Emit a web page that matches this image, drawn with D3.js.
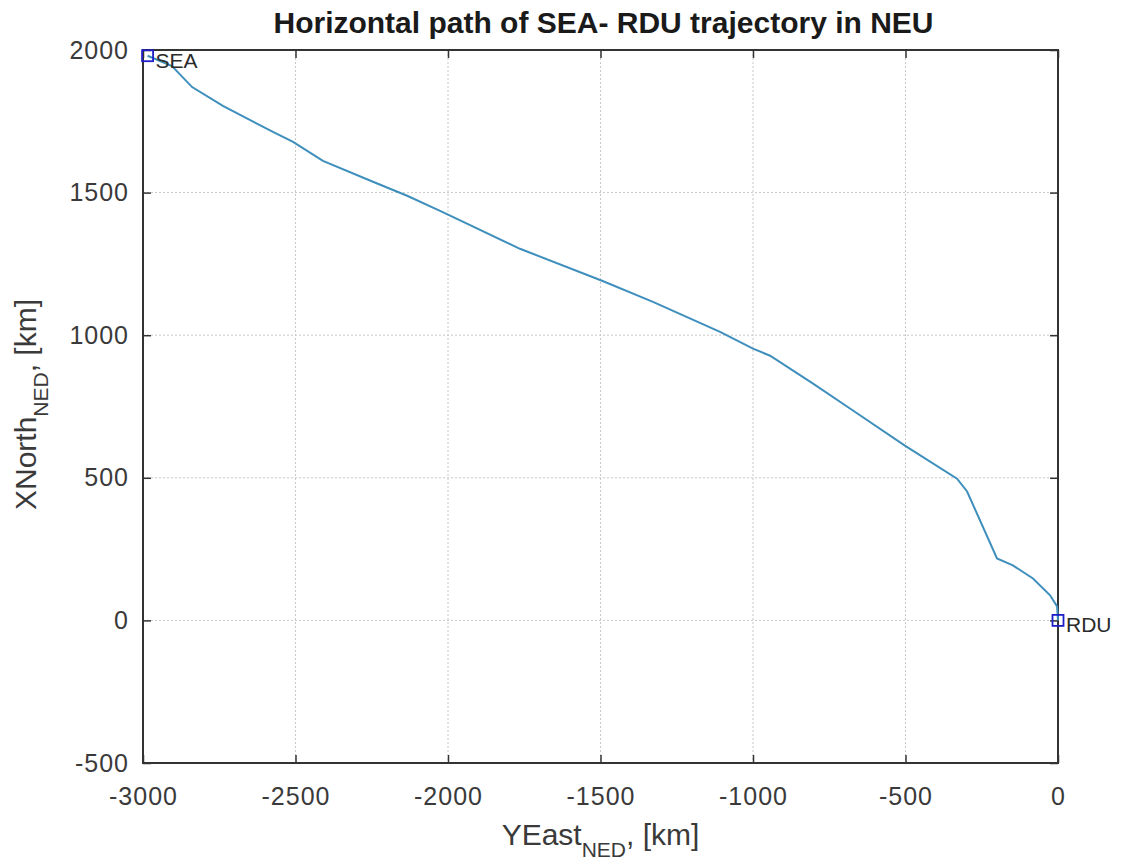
<!DOCTYPE html>
<html>
<head>
<meta charset="utf-8">
<script src="https://cdn.jsdelivr.net/npm/d3@7"></script>
<style>
  body { margin: 0; background: #fff; }
  svg text { font-family: "Liberation Sans", Arial, sans-serif; }
</style>
</head>
<body>
<div id="chart"></div>
<script>
// Trajectory: east (x) and north (y), km
const eastKm = [-2985, -2905, -2839, -2738, -2574, -2508, -2410, -2246, -2134, -2026, -1993,
  -1764, -1495, -1328, -1108, -1000, -944, -803, -682, -502, -331, -298, -200, -148, -82, -26, -3, 0];
const northKm = [1980, 1944, 1870, 1804, 1713, 1678, 1611, 1538, 1489, 1436, 1419,
  1303, 1191, 1117, 1012, 953, 928, 830, 743, 613, 497, 452, 217, 193, 147, 88, 49, 0];

const airportNames = ['SEA', 'RDU'];
const airportEast = [-2985, 0];
const airportNorth = [1980, 0];

const xTicks = [-3000, -2500, -2000, -1500, -1000, -500, 0];
const yTicks = [-500, 0, 500, 1000, 1500, 2000];

const W = 1131, H = 863;
const margin = { top: 50, right: 73, bottom: 100, left: 143 };
const plotW = W - margin.left - margin.right;
const plotH = H - margin.top - margin.bottom;

const svg = d3.select('#chart').append('svg')
  .attr('width', W)
  .attr('height', H);

const g = svg.append('g')
  .attr('transform', `translate(${margin.left},${margin.top})`);

const x = d3.scaleLinear().domain([-3000, 0]).range([0, plotW]);
const y = d3.scaleLinear().domain([-500, 2000]).range([plotH, 0]);

// dotted grid
g.append('g')
  .selectAll('line')
  .data(xTicks)
  .join('line')
  .attr('x1', d => x(d)).attr('x2', d => x(d))
  .attr('y1', 0).attr('y2', plotH)
  .attr('stroke', '#c8c8c8')
  .attr('stroke-dasharray', '2,2');

g.append('g')
  .selectAll('line')
  .data(yTicks)
  .join('line')
  .attr('y1', d => y(d)).attr('y2', d => y(d))
  .attr('x1', 0).attr('x2', plotW)
  .attr('stroke', '#c8c8c8')
  .attr('stroke-dasharray', '2,2');

// axes, ticks pointing inward, plain hyphen minus like the original
const fmt = d => String(d);
const axisStyle = sel => {
  sel.select('.domain').remove();
  sel.selectAll('.tick line').attr('stroke', '#333').attr('stroke-width', 1.5);
  sel.selectAll('.tick text')
    .attr('fill', '#3a3a3a')
    .style('font-size', '25px')
    .style('letter-spacing', '1px');
};

g.append('g')
  .attr('transform', `translate(0,${plotH})`)
  .call(d3.axisBottom(x).tickValues(xTicks).tickSize(-8).tickPadding(24).tickFormat(fmt))
  .call(axisStyle);

g.append('g')
  .call(d3.axisTop(x).tickValues(xTicks).tickSize(-8).tickFormat(''))
  .call(axisStyle);

g.append('g')
  .call(d3.axisLeft(y).tickValues(yTicks).tickSize(-8).tickPadding(14).tickFormat(fmt))
  .call(axisStyle);

g.append('g')
  .attr('transform', `translate(${plotW},0)`)
  .call(d3.axisRight(y).tickValues(yTicks).tickSize(-8).tickFormat(''))
  .call(axisStyle);

// frame
g.append('rect')
  .attr('width', plotW)
  .attr('height', plotH)
  .attr('fill', 'none')
  .attr('stroke', '#333')
  .attr('stroke-width', 2);

// path
const line = d3.line()
  .x((d, i) => x(eastKm[i]))
  .y((d, i) => y(northKm[i]));

g.append('path')
  .datum(eastKm)
  .attr('d', line)
  .attr('fill', 'none')
  .attr('stroke', '#3f8fbd')
  .attr('stroke-width', 2);

// airport markers + labels
airportNames.forEach((name, i) => {
  const cx = x(airportEast[i]), cy = y(airportNorth[i]);
  g.append('rect')
    .attr('x', cx - 5.5).attr('y', cy - 5.5)
    .attr('width', 11).attr('height', 11)
    .attr('fill', 'none')
    .attr('stroke', '#1f1fc8')
    .attr('stroke-width', 1.8);
  g.append('text')
    .attr('x', cx + 8)
    .attr('y', cy + 12)
    .attr('fill', '#2a2a2a')
    .style('font-size', '21px')
    .text(name);
});

// title
svg.append('text')
  .attr('x', margin.left + plotW / 2 + 3)
  .attr('y', 33)
  .attr('text-anchor', 'middle')
  .attr('fill', '#1a1a1a')
  .style('font-size', '30px')
  .style('font-weight', 'bold')
  .text('Horizontal path of SEA- RDU trajectory in NEU');

// x label
const xl = svg.append('text')
  .attr('x', margin.left + plotW / 2)
  .attr('y', 845)
  .attr('text-anchor', 'middle')
  .attr('fill', '#3a3a3a')
  .style('font-size', '30px');
xl.append('tspan').text('YEast');
xl.append('tspan').attr('dy', 12).style('font-size', '21px').text('NED');
xl.append('tspan').attr('dy', -12).text(', [km]');

// y label
const yl = svg.append('text')
  .attr('transform', `translate(36,${margin.top + plotH / 2 - 2}) rotate(-90)`)
  .attr('text-anchor', 'middle')
  .attr('fill', '#3a3a3a')
  .style('font-size', '30px');
yl.append('tspan').text('XNorth');
yl.append('tspan').attr('dy', 12).style('font-size', '21px').text('NED');
yl.append('tspan').attr('dy', -12).text(', [km]');
</script>
</body>
</html>
